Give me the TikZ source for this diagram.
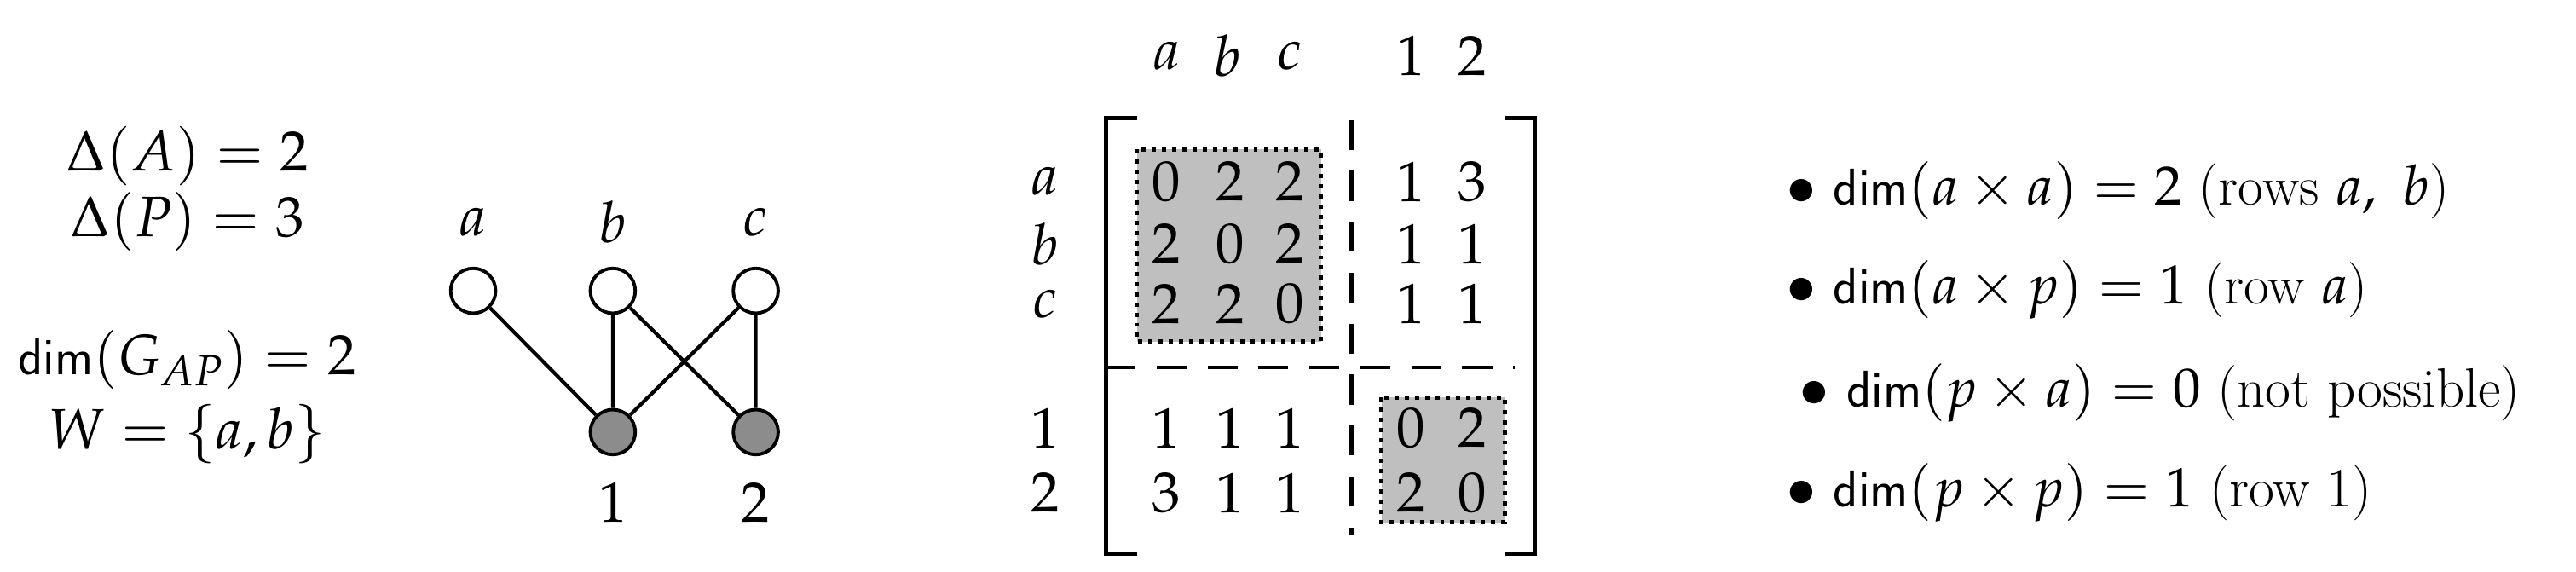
\documentclass[tikz,border=0pt]{standalone}
\usepackage{mathpazo}
\begin{document}
\begin{tikzpicture}[x=0.01927cm,y=-0.01927cm,
  txt/.style={inner sep=0pt,font=\fontsize{19}{23}\selectfont},
  btxt/.style={inner sep=0pt,anchor=west,font=\fontsize{18.5}{22}\selectfont},
  vtop/.style={circle,draw,line width=1.1pt,fill=white,minimum size=15,inner sep=0pt},
  vbot/.style={circle,draw,line width=1.1pt,fill=gray!90,minimum size=15,inner sep=0pt},
  edge/.style={line width=1.2pt},
  grayblk/.style={draw,dotted,line width=1.4pt},
  brk/.style={line width=1.4pt},
  dsh/.style={dashed,dash pattern=on 10pt off 7pt,line width=1.3pt}]
\useasboundingbox (0,0) rectangle (1568,348);
% left text
\node[txt] (t1) at (114,95) {$\Delta(A)=2$};
\node[txt] (t2) at (114,135) {$\Delta(P)=3$};
\node[txt] (t3) at (114,219) {$\mathsf{dim}(G_{AP})=2$};
\node[txt] (t4) at (114,264) {$W=\{a,b\}$};
% graph
\node[txt] (la) at (288,135) {$a$};
\node[txt] (lb) at (373,135) {$b$};
\node[txt] (lc) at (460,135) {$c$};
\node[vtop] (a) at (288,177) {};
\node[vtop] (b) at (373,177) {};
\node[vtop] (c) at (460,177) {};
\node[vbot] (p1) at (373,263) {};
\node[vbot] (p2) at (460,263) {};
\node[txt] (l1) at (373,306) {$1$};
\node[txt] (l2) at (460,306) {$2$};
\draw[edge] (a)--(p1) (b)--(p1) (b)--(p2) (c)--(p1) (c)--(p2);
% matrix
\fill[gray!50] (692,91) rectangle (804,208);
\fill[gray!50] (841,242) rectangle (916,318);
\draw[grayblk] (692,91) rectangle (804,208);
\draw[grayblk] (841,242) rectangle (916,318);
\draw[brk] (692,72)--(673,72)--(673,337)--(692,337);
\draw[brk] (916,72)--(934,72)--(934,337)--(916,337);
\draw[dsh] (822.5,73)--(822.5,326);
\draw[dsh] (673,223.7)--(922,223.7);
\foreach \x/\l in {710/a,747/b,785/c} \node[txt] (h\l) at (\x,34) {$\l$};
\foreach \x/\l in {859/1,896/2} \node[txt] (hp\l) at (\x,34) {$\l$};
\foreach \y/\l in {110.6/a,148.5/b,185/c} \node[txt] (r\l) at (636,\y) {$\l$};
\foreach \y/\l in {260.6/1,300/2} \node[txt] (rp\l) at (636,\y) {$\l$};
\foreach \y/\p/\q/\r/\s/\t [count=\i] in {110.6/0/2/2/1/3,148.5/2/0/2/1/1,185/2/2/0/1/1,260.6/1/1/1/0/2,300/3/1/1/2/0}{
  \node[txt] (m\i a) at (710,\y) {$\p$};
  \node[txt] (m\i b) at (749,\y) {$\q$};
  \node[txt] (m\i c) at (785,\y) {$\r$};
  \node[txt] (m\i d) at (859,\y) {$\s$};
  \node[txt] (m\i e) at (896,\y) {$\t$};
}
% bullets
\node[btxt] (b1) at (1087,116) {$\bullet\ \mathsf{dim}(a\times a)=2$ (rows $a,\ b$)};
\node[btxt] (b2) at (1087,176.5) {$\bullet\ \mathsf{dim}(a\times p)=1$ (row $a$)};
\node[btxt] (b3) at (1095,239) {$\bullet\ \mathsf{dim}(p\times a)=0$ (not possible)};
\node[btxt] (b4) at (1087,300) {$\bullet\ \mathsf{dim}(p\times p)=1$ (row 1)};
\end{tikzpicture}
\end{document}
